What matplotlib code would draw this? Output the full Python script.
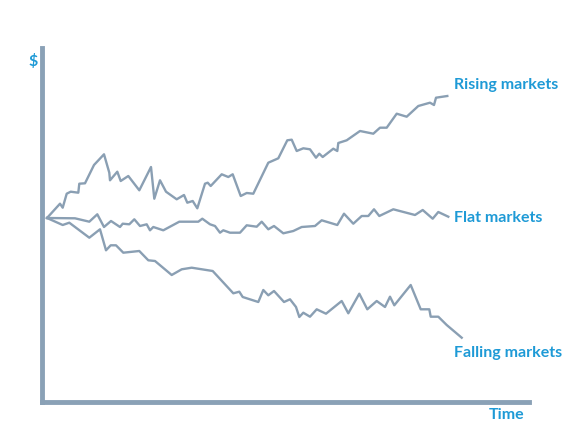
import matplotlib.pyplot as plt

# time steps and market values (origin = axes corner)
rising_t = [5, 18, 20.7, 24.7, 28.7, 36.3, 37.3, 43, 52, 62, 67.3, 68, 75.3, 78.7, 86.3, 97.3,
            109, 112.3, 118, 124, 134.7, 142, 145.3, 150.7, 155.3, 163, 165.7, 168.7, 179.7,
            186.3, 190.7, 198.7, 204.7, 211.3, 226.3, 236.3, 245.3, 249.7, 254.7, 261.3, 268,
            274, 277.3, 280.7, 291.3, 295.3, 296.3, 304.7, 318, 331.3, 338, 344.7, 354.7,
            364.7, 376.3, 388, 392, 394, 405.3]
rising_v = [184, 198.3, 194.3, 208.3, 210.3, 209.3, 218.3, 218.7, 237, 247.7, 229.3, 221.7,
            230.3, 221, 226, 211.7, 235, 203.3, 221.7, 210.3, 202.7, 207, 199.3, 201, 193.7,
            218.3, 219.3, 216, 227.7, 225, 227.7, 206, 209, 208.3, 239.3, 243.7, 261.7, 262.3,
            251, 253.7, 252.7, 244.3, 248.3, 245, 253.3, 251, 259, 261.7, 271, 268.3, 274.3,
            274.3, 288.3, 285.3, 296, 299.3, 297, 304.3, 306]

flat_t = [5, 33, 47.3, 55.3, 62, 69, 78, 80.7, 87.3, 92.3, 98, 104.7, 108, 111.3, 121.3,
          137.3, 156.3, 160.3, 168, 173, 178, 181.3, 188, 198, 204.7, 214.7, 219.7, 226.3,
          232, 241.3, 251.3, 259.7, 273, 279.7, 295.3, 302, 311.3, 319.7, 326.3, 332, 337.3,
          351.3, 373, 380.7, 390.7, 396.3, 406.3]
flat_v = [184, 183.7, 180.3, 187.7, 175, 181, 175, 178.3, 177.7, 182.7, 176, 177.7, 171.7,
          175, 171.7, 180.3, 180.3, 183.3, 177.7, 176, 169.3, 171.7, 169.3, 169.3, 176.7,
          175.3, 180.3, 172.7, 176, 168.7, 171, 175, 176, 181.7, 177, 188.3, 178.3, 186, 186,
          192.7, 186, 192.7, 187, 192, 183.3, 190, 185.3]

falling_t = [5, 20.7, 27.3, 47.3, 58, 64, 68.7, 74, 81.3, 97.3, 106.3, 113, 129.7, 139.7,
             149.7, 170.7, 191.3, 197.3, 200.7, 216.3, 221.3, 226.3, 232, 242, 248, 254,
             257.3, 261.3, 268, 274.7, 284, 299.7, 306.3, 317.3, 325.3, 334.7, 343, 348,
             352.3, 368.7, 378.7, 387.3, 388.7, 396.3, 404.7, 419.7]
falling_v = [184, 177, 179.3, 164.3, 172.7, 151.7, 156.7, 156.7, 149.3, 151, 141.7, 141, 127,
             132.7, 134.3, 131, 108.7, 110.3, 105, 100, 112, 106.7, 111, 100, 102.7, 95, 85,
             89.3, 85.3, 92.7, 88.3, 101, 88.7, 108.3, 92.7, 101, 95, 105.3, 96.7, 117, 92.7,
             92.7, 85.3, 85.3, 77, 64.3]

labels = ['Rising markets', 'Flat markets', 'Falling markets']

line_col = '#8a9fb3'
axis_col = '#8aa1b6'
text_col = '#1e9ad6'
font = ['Lato', 'DejaVu Sans']
fs = 11.5

fig = plt.figure(figsize=(5.8, 4.29), dpi=100)
ax = fig.add_axes([42 / 580, 27 / 429, 487 / 580, 354 / 429])
ax.set_xlim(0, 487)
ax.set_ylim(0, 354)

for t, v in [(rising_t, rising_v), (flat_t, flat_v), (falling_t, falling_v)]:
    ax.plot(t, v, color=line_col, lw=1.7, solid_joinstyle='round')

# line-end labels
for y, lab in zip([312.5, 180, 45.5], labels):
    ax.text(412, y, lab, color=text_col, fontsize=fs, fontweight='bold',
            family=font, va='baseline', ha='left', clip_on=False)

# axis captions
ax.text(482, -17, 'Time', color=text_col, fontsize=fs, fontweight='bold',
        family=font, va='baseline', ha='right', clip_on=False)
ax.text(-9, 340, '$', color=text_col, fontsize=fs, fontweight='bold',
        family=font, va='center', ha='center', clip_on=False)

for s in ['top', 'right']:
    ax.spines[s].set_visible(False)
for s in ['left', 'bottom']:
    ax.spines[s].set_color(axis_col)
    ax.spines[s].set_linewidth(3.5)
ax.set_xticks([])
ax.set_yticks([])
ax.patch.set_alpha(0)

fig.savefig('out.png', dpi=100)
